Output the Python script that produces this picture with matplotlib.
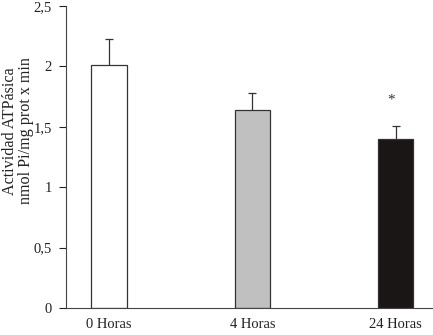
import matplotlib
matplotlib.use("Agg")
import matplotlib.pyplot as plt
from matplotlib.ticker import FuncFormatter

categories = ["0 Horas", "4 Horas", "24 Horas"]
values = [2.01, 1.64, 1.395]
err_low = [0.15, 0.14, 0.115]
err_high = [0.22, 0.14, 0.115]
colors = ["#ffffff", "#c0c0c0", "#1a1616"]
star_index = 2
star_y = 1.72
ylabel = "Actividad ATPásica\nnmol Pi/mg prot x min"

plt.rcParams['font.family'] = ['Liberation Serif', 'DejaVu Serif']
fig = plt.figure(figsize=(4.33, 3.35), dpi=100)
ax = fig.add_axes([66/433, 27/335, 367/433, 302/335])

x = list(range(len(categories)))
ax.bar(x, values, width=0.245, color=colors, edgecolor="#333333", linewidth=0.9, zorder=2)
ax.errorbar(x, values, yerr=[err_low, err_high], fmt='none', ecolor="#333333",
            elinewidth=0.9, capsize=3, capthick=0.9, zorder=1)
ax.text(x[star_index] - 0.03, star_y, "*", ha='center', va='center', fontsize=11, color="#333333")

ax.set_xlim(-0.30, 2.26)
ax.set_ylim(0, 2.5)
ax.set_yticks([0, 0.5, 1, 1.5, 2, 2.5])
ax.yaxis.set_major_formatter(FuncFormatter(lambda v, p: ("%g" % v).replace('.', ',')))
ax.set_xticks(x)
ax.set_xticklabels(categories)
ax.tick_params(axis='x', length=0, pad=7, labelsize=10.5, colors='#222222')
ax.tick_params(axis='y', length=5, width=0.8, direction='out', pad=5, labelsize=10.5, colors='#222222')
for s in ['top', 'right']:
    ax.spines[s].set_visible(False)
for s in ['left', 'bottom']:
    ax.spines[s].set_linewidth(0.8)
    ax.spines[s].set_color('#444444')

fig.text(18/433, 1 - 131/335, ylabel, rotation=90, ha='center', va='center',
         multialignment='center', fontsize=11.6, linespacing=1.0, color='#222222')

fig.savefig("out.png", dpi=100)
